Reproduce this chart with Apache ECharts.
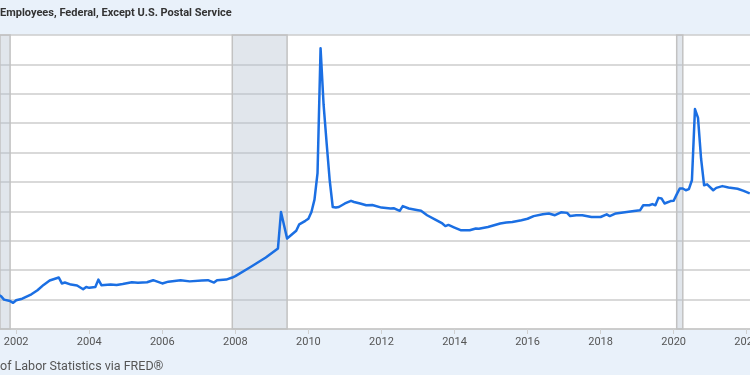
<!DOCTYPE html>
<html>
<head>
<meta charset="utf-8">
<script src="https://cdn.jsdelivr.net/npm/echarts@6/dist/echarts.min.js"></script>
<style>
html,body{margin:0;padding:0;background:#e9f1fa;}
#chart{width:750px;height:375px;}
</style>
</head>
<body>
<div id="chart"></div>
<script>
// Visible title / source text
var titleText = 'Employees, Federal, Except U.S. Postal Service';
var sourceText = 'of Labor Statistics via FRED\u00AE';

// X tick labels (years)
var tickYears = [2002, 2004, 2006, 2008, 2010, 2012, 2014, 2016, 2018, 2020, 2022];

var months = [
 '2001-07','2001-08','2001-09','2001-11','2001-12','2002-01','2002-03','2002-06','2002-08','2002-10','2002-12',
 '2003-03','2003-04','2003-05','2003-07','2003-09','2003-11','2003-12','2004-01','2004-03','2004-04','2004-05',
 '2004-08','2004-10','2004-12','2005-03','2005-05','2005-08','2005-10','2006-01','2006-03','2006-07','2006-10',
 '2007-02','2007-04','2007-06','2007-07','2007-10','2007-12','2008-01','2008-06','2008-11','2009-03','2009-04',
 '2009-05','2009-06','2009-09','2009-10','2009-12','2010-01','2010-02','2010-03','2010-04','2010-05','2010-06',
 '2010-07','2010-08','2010-09','2010-10','2010-11','2011-01','2011-03','2011-04','2011-06','2011-08','2011-10',
 '2012-01','2012-04','2012-05','2012-07','2012-08','2012-10','2013-01','2013-02','2013-04','2013-07','2013-09',
 '2013-10','2013-11','2014-01','2014-03','2014-06','2014-08','2014-09','2014-12','2015-04','2015-06','2015-08',
 '2015-11','2016-01','2016-03','2016-06','2016-08','2016-10','2016-12','2017-02','2017-03','2017-05','2017-07',
 '2017-10','2018-01','2018-03','2018-04','2018-06','2018-09','2018-12','2019-02','2019-03','2019-05','2019-06',
 '2019-07','2019-08','2019-09','2019-10','2019-12','2020-01','2020-02','2020-03','2020-04','2020-05','2020-06',
 '2020-07','2020-08','2020-09','2020-10','2020-11','2020-12','2021-02','2021-03','2021-05','2021-07','2021-10',
 '2021-12','2022-02'
];
var employees = [
 1916,1912,1900,1895,1889,1898,1903,1918,1932,1950,1965,
 1975,1955,1958,1951,1948,1935,1943,1940,1943,1968,1949,
 1951,1950,1953,1959,1957,1959,1966,1955,1961,1966,1962,
 1965,1966,1958,1966,1968,1975,1980,2011,2043,2074,2198,
 2153,2108,2134,2156,2168,2175,2198,2240,2330,2755,2562,
 2431,2306,2215,2213,2215,2227,2236,2232,2227,2221,2222,
 2213,2210,2211,2202,2218,2210,2204,2202,2187,2170,2159,
 2150,2154,2145,2136,2136,2142,2141,2147,2159,2162,2164,
 2170,2175,2184,2190,2193,2187,2197,2195,2184,2187,2187,
 2181,2181,2190,2184,2193,2197,2201,2204,2221,2221,2225,
 2221,2246,2244,2227,2235,2236,2258,2278,2278,2272,2276,
 2306,2548,2518,2380,2289,2292,2272,2280,2286,2281,2277,
 2270,2261
];

// Recession periods (start, end)
var recessionStarts = ['2001-03','2007-12','2020-02'];
var recessionEnds   = ['2001-11','2009-06','2020-04'];

function toYear(s){ var p = s.split('-'); return +p[0] + (+p[1] - 1) / 12; }

var seriesData = months.map(function(m, i){ return [toYear(m), employees[i]]; });
var areas = recessionStarts.map(function(s, i){
  return [{xAxis: toYear(s)}, {xAxis: toYear(recessionEnds[i])}];
});

var chart = echarts.init(document.getElementById('chart'), null, {renderer:'canvas'});
chart.setOption({
  animation: false,
  backgroundColor: '#e9f1fa',
  title: [
    {text: titleText, left: 0, top: 8, padding: 0,
     textStyle: {fontFamily: 'Roboto', fontSize: 11, fontWeight: 'bold', color: '#333'}},
    {text: sourceText, left: 0, top: 360, padding: 0,
     textStyle: {fontFamily: 'Roboto', fontSize: 12.5, fontWeight: 'normal', color: '#555'}}
  ],
  grid: {left: 0, right: 0, top: 35, bottom: 46, containLabel: false, outerBoundsMode: 'none',
         show: true, backgroundColor: '#ffffff', borderWidth: 0},
  xAxis: {
    type: 'value', min: 2001.557, max: 2022.09,
    axisLine: {show: true, lineStyle: {color: '#c8c8c8', width: 1.5}},
    axisTick: {show: true, length: 5, customValues: tickYears, lineStyle: {color: '#d0d0d0'}},
    axisLabel: {
      margin: 8, color: '#555', fontFamily: 'Roboto', fontSize: 11,
      customValues: tickYears,
      formatter: function(v){ return String(Math.round(v)); }
    },
    splitLine: {show: false}
  },
  yAxis: {
    type: 'value', min: 1800, max: 2800, interval: 100,
    axisLine: {show: false}, axisTick: {show: false}, axisLabel: {show: false},
    splitLine: {show: true, lineStyle: {color: '#cdcdcd', width: 1.5}}
  },
  series: [{
    type: 'line',
    data: seriesData,
    showSymbol: false,
    clip: true,
    lineStyle: {color: '#1b6fe3', width: 2.5, join: 'round'},
    itemStyle: {color: '#1b6fe3'},
    markArea: {
      silent: true,
      itemStyle: {color: 'rgba(180,192,208,0.4)', borderColor: '#c2c2c2', borderWidth: 1.5},
      data: areas
    }
  }]
});
</script>
</body>
</html>
